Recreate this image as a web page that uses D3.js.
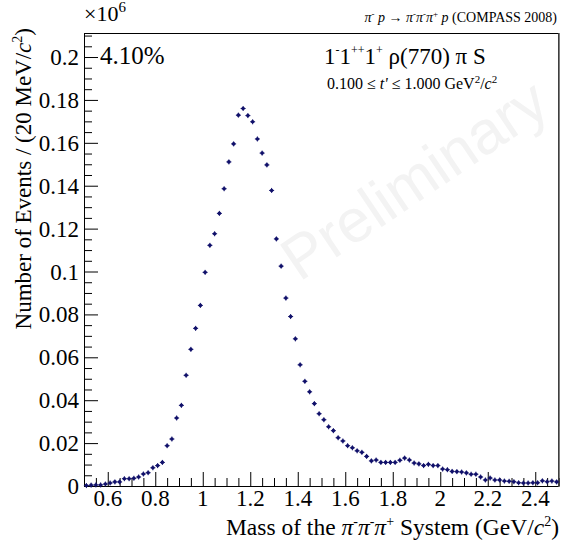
<!DOCTYPE html>
<html>
<head>
<meta charset="utf-8">
<script src="https://cdn.jsdelivr.net/npm/d3@7"></script>
<style>
  body { margin: 0; background: #fff; }
</style>
</head>
<body>
<div id="plothere"></div>
<script>
// mass bins, 20 MeV wide, 0.5 - 2.5 GeV
var binLow = 0.5, binWidth = 0.02;
// events per bin in units of 10^6
var events = [
  0.0002, 0.0004, 0.0005, 0.0005, 0.0009, 0.0014, 0.0019, 0.0019, 0.0034, 0.0034,
  0.0036, 0.0042, 0.0056, 0.0062, 0.0085, 0.0095, 0.0110, 0.0188, 0.0219, 0.0317,
  0.0376, 0.0516, 0.0637, 0.0735, 0.0842, 0.0996, 0.1122, 0.1176, 0.1271, 0.1386,
  0.1511, 0.1595, 0.1729, 0.1760, 0.1727, 0.1698, 0.1618, 0.1552, 0.1497, 0.1378,
  0.1152, 0.1025, 0.0876, 0.0790, 0.0686, 0.0565, 0.0488, 0.0439, 0.0384, 0.0337,
  0.0309, 0.0276, 0.0258, 0.0225, 0.0210, 0.0188, 0.0178, 0.0164, 0.0157, 0.0138,
  0.0117, 0.0121, 0.0110, 0.0110, 0.0110, 0.0110, 0.0120, 0.0130, 0.0121, 0.0107,
  0.0103, 0.0095, 0.0101, 0.0095, 0.0095, 0.0079, 0.0076, 0.0068, 0.0067, 0.0065,
  0.0061, 0.0055, 0.0055, 0.0042, 0.0028, 0.0037, 0.0028, 0.0028, 0.0023, 0.0022,
  0.0020, 0.0015, 0.0014, 0.0014, 0.0015, 0.0015, 0.0024, 0.0020, 0.0023, 0.0019
];
var xTicks = [0.6, 0.8, 1, 1.2, 1.4, 1.6, 1.8, 2, 2.2, 2.4];
var yTicks = [0, 0.02, 0.04, 0.06, 0.08, 0.1, 0.12, 0.14, 0.16, 0.18, 0.2];

var serif = "'Liberation Serif', 'Times New Roman', 'DejaVu Serif', serif";

function Plot(data) {
  var W = 564, H = 543;
  var left = 84, right = 559, top = 33, bottom = 486;
  var col = "#10106a";

  var svg = d3.select("#plothere")
    .append("svg")
    .attr("width", W)
    .attr("height", H);

  var x = d3.scaleLinear().domain([0.5, 2.5]).range([left, right]);
  var y = d3.scaleLinear().domain([0, 0.2112]).range([bottom, top]);

  // watermark
  svg.append("text")
    .attr("class", "wm")
    .attr("transform", "translate(426,197) rotate(-34)")
    .attr("text-anchor", "middle")
    .style("font-family", "'Liberation Sans', Arial, sans-serif")
    .style("font-size", "61px")
    .style("fill", "#f3f3f3")
    .text("Preliminary");

  // x axis, ticks pointing up
  var xMinor = d3.range(0.5, 2.5001, 0.05).filter(function(v) {
    return Math.abs(v / 0.2 - Math.round(v / 0.2)) > 1e-6;
  });
  var gx = svg.append("g").attr("transform", "translate(0," + bottom + ")");
  gx.call(d3.axisTop(x).tickValues(xMinor).tickSize(8).tickFormat(""));
  gx.append("g").call(d3.axisTop(x).tickValues(xTicks).tickSize(14).tickFormat(""));
  gx.selectAll("path.domain").remove();
  svg.append("g").selectAll("text")
    .data(xTicks)
    .enter()
    .append("text")
    .attr("x", function(d) { return x(d); })
    .attr("y", 506)
    .attr("text-anchor", "middle")
    .style("font-size", "23px")
    .text(function(d) { return d3.format("~g")(d); });

  // y axis, ticks pointing right
  var yMinor = d3.range(0, 0.2101, 0.005).filter(function(v) {
    return Math.abs(v / 0.02 - Math.round(v / 0.02)) > 1e-6;
  });
  var gy = svg.append("g").attr("transform", "translate(" + left + ",0)");
  gy.call(d3.axisRight(y).tickValues(yMinor).tickSize(8).tickFormat(""));
  gy.append("g").call(d3.axisRight(y).tickValues(yTicks).tickSize(14).tickFormat(""));
  gy.selectAll("path.domain").remove();
  svg.selectAll(".tick line").attr("stroke", "#000").attr("stroke-width", 1);
  svg.append("g").selectAll("text")
    .data(yTicks)
    .enter()
    .append("text")
    .attr("x", 79)
    .attr("y", function(d) { return y(d) + 8; })
    .attr("text-anchor", "end")
    .style("font-size", "23px")
    .text(function(d) { return d3.format("~g")(d); });

  // frame
  svg.append("rect")
    .attr("x", left + 0.5).attr("y", top + 0.5)
    .attr("width", right - left - 1).attr("height", bottom - top)
    .attr("fill", "none")
    .attr("stroke", "#000")
    .attr("stroke-width", 1);
  svg.append("line")
    .attr("x1", right).attr("x2", right).attr("y1", top).attr("y2", bottom + 1)
    .attr("stroke", "#555").attr("stroke-width", 1.5);

  // points
  var pts = svg.append("g")
    .selectAll("g")
    .data(data)
    .enter()
    .append("g")
    .attr("transform", function(d, i) {
      return "translate(" + x(binLow + (i + 0.5) * binWidth) + "," + y(d) + ")";
    });
  pts.append("line").attr("x1", -2.5).attr("x2", 2.5).attr("y1", 0).attr("y2", 0)
    .attr("stroke", col).attr("stroke-width", 1);
  pts.append("line").attr("x1", 0).attr("x2", 0).attr("y1", -2.5).attr("y2", 2.5)
    .attr("stroke", col).attr("stroke-width", 1);
  pts.append("circle").attr("r", 1.8).style("fill", col);

  // labels
  var ex = svg.append("text").attr("x", 84).attr("y", 21).style("font-size", "22px");
  ex.append("tspan").text("\u00d710");
  ex.append("tspan").attr("dy", -9).style("font-size", "15px").text("6");

  svg.append("text").attr("x", 100).attr("y", 64).style("font-size", "25px").text("4.10%");

  var wave = svg.append("text").attr("x", 324).attr("y", 64).style("font-size", "23px");
  wave.append("tspan").text("1");
  wave.append("tspan").attr("dy", -10).style("font-size", "12px").text("-");
  wave.append("tspan").attr("dy", 10).text("1");
  wave.append("tspan").attr("dy", -10).style("font-size", "12px").text("++");
  wave.append("tspan").attr("dy", 10).text("1");
  wave.append("tspan").attr("dy", -10).style("font-size", "12px").text("+");
  wave.append("tspan").attr("dy", 10).text(" \u03c1(770) \u03c0 S");

  var tr = svg.append("text").attr("x", 327).attr("y", 89).style("font-size", "16px");
  tr.append("tspan").text("0.100 \u2264 ");
  tr.append("tspan").style("font-style", "italic").text("t'");
  tr.append("tspan").text(" \u2264 1.000 GeV");
  tr.append("tspan").attr("dy", -6).style("font-size", "11px").text("2");
  tr.append("tspan").attr("dy", 6).text("/");
  tr.append("tspan").style("font-style", "italic").text("c");
  tr.append("tspan").attr("dy", -6).style("font-size", "11px").text("2");

  var rx = svg.append("text").attr("x", 557).attr("y", 22)
    .attr("text-anchor", "end").style("font-size", "14px");
  rx.append("tspan").style("font-style", "italic").text("\u03c0");
  rx.append("tspan").attr("dy", -5).style("font-size", "9px").text("-");
  rx.append("tspan").attr("dy", 5).style("font-style", "italic").text(" p \u2192 \u03c0");
  rx.append("tspan").attr("dy", -5).style("font-size", "9px").text("-");
  rx.append("tspan").attr("dy", 5).style("font-style", "italic").text("\u03c0");
  rx.append("tspan").attr("dy", -5).style("font-size", "9px").text("-");
  rx.append("tspan").attr("dy", 5).style("font-style", "italic").text("\u03c0");
  rx.append("tspan").attr("dy", -5).style("font-size", "9px").text("+");
  rx.append("tspan").attr("dy", 5).style("font-style", "italic").text(" p");
  rx.append("tspan").text(" (COMPASS 2008)");

  var xl = svg.append("text").attr("x", 559).attr("y", 535)
    .attr("text-anchor", "end").style("font-size", "23.5px");
  xl.append("tspan").text("Mass of the ");
  xl.append("tspan").style("font-style", "italic").text("\u03c0");
  xl.append("tspan").attr("dy", -9).style("font-size", "14px").text("-");
  xl.append("tspan").attr("dy", 9).style("font-style", "italic").text("\u03c0");
  xl.append("tspan").attr("dy", -9).style("font-size", "14px").text("-");
  xl.append("tspan").attr("dy", 9).style("font-style", "italic").text("\u03c0");
  xl.append("tspan").attr("dy", -9).style("font-size", "14px").text("+");
  xl.append("tspan").attr("dy", 9).text(" System (GeV/");
  xl.append("tspan").style("font-style", "italic").text("c");
  xl.append("tspan").attr("dy", -9).style("font-size", "14px").text("2");
  xl.append("tspan").attr("dy", 9).text(")");

  var yl = svg.append("text").attr("transform", "translate(31,28) rotate(-90)")
    .attr("text-anchor", "end").style("font-size", "23px");
  yl.append("tspan").text("Number of Events / (20 MeV/");
  yl.append("tspan").style("font-style", "italic").text("c");
  yl.append("tspan").attr("dy", -9).style("font-size", "14px").text("2");
  yl.append("tspan").attr("dy", 9).text(")");

  svg.selectAll("text:not(.wm)").style("font-family", serif).style("fill", "#000");
}

Plot(events);
</script>
</body>
</html>
